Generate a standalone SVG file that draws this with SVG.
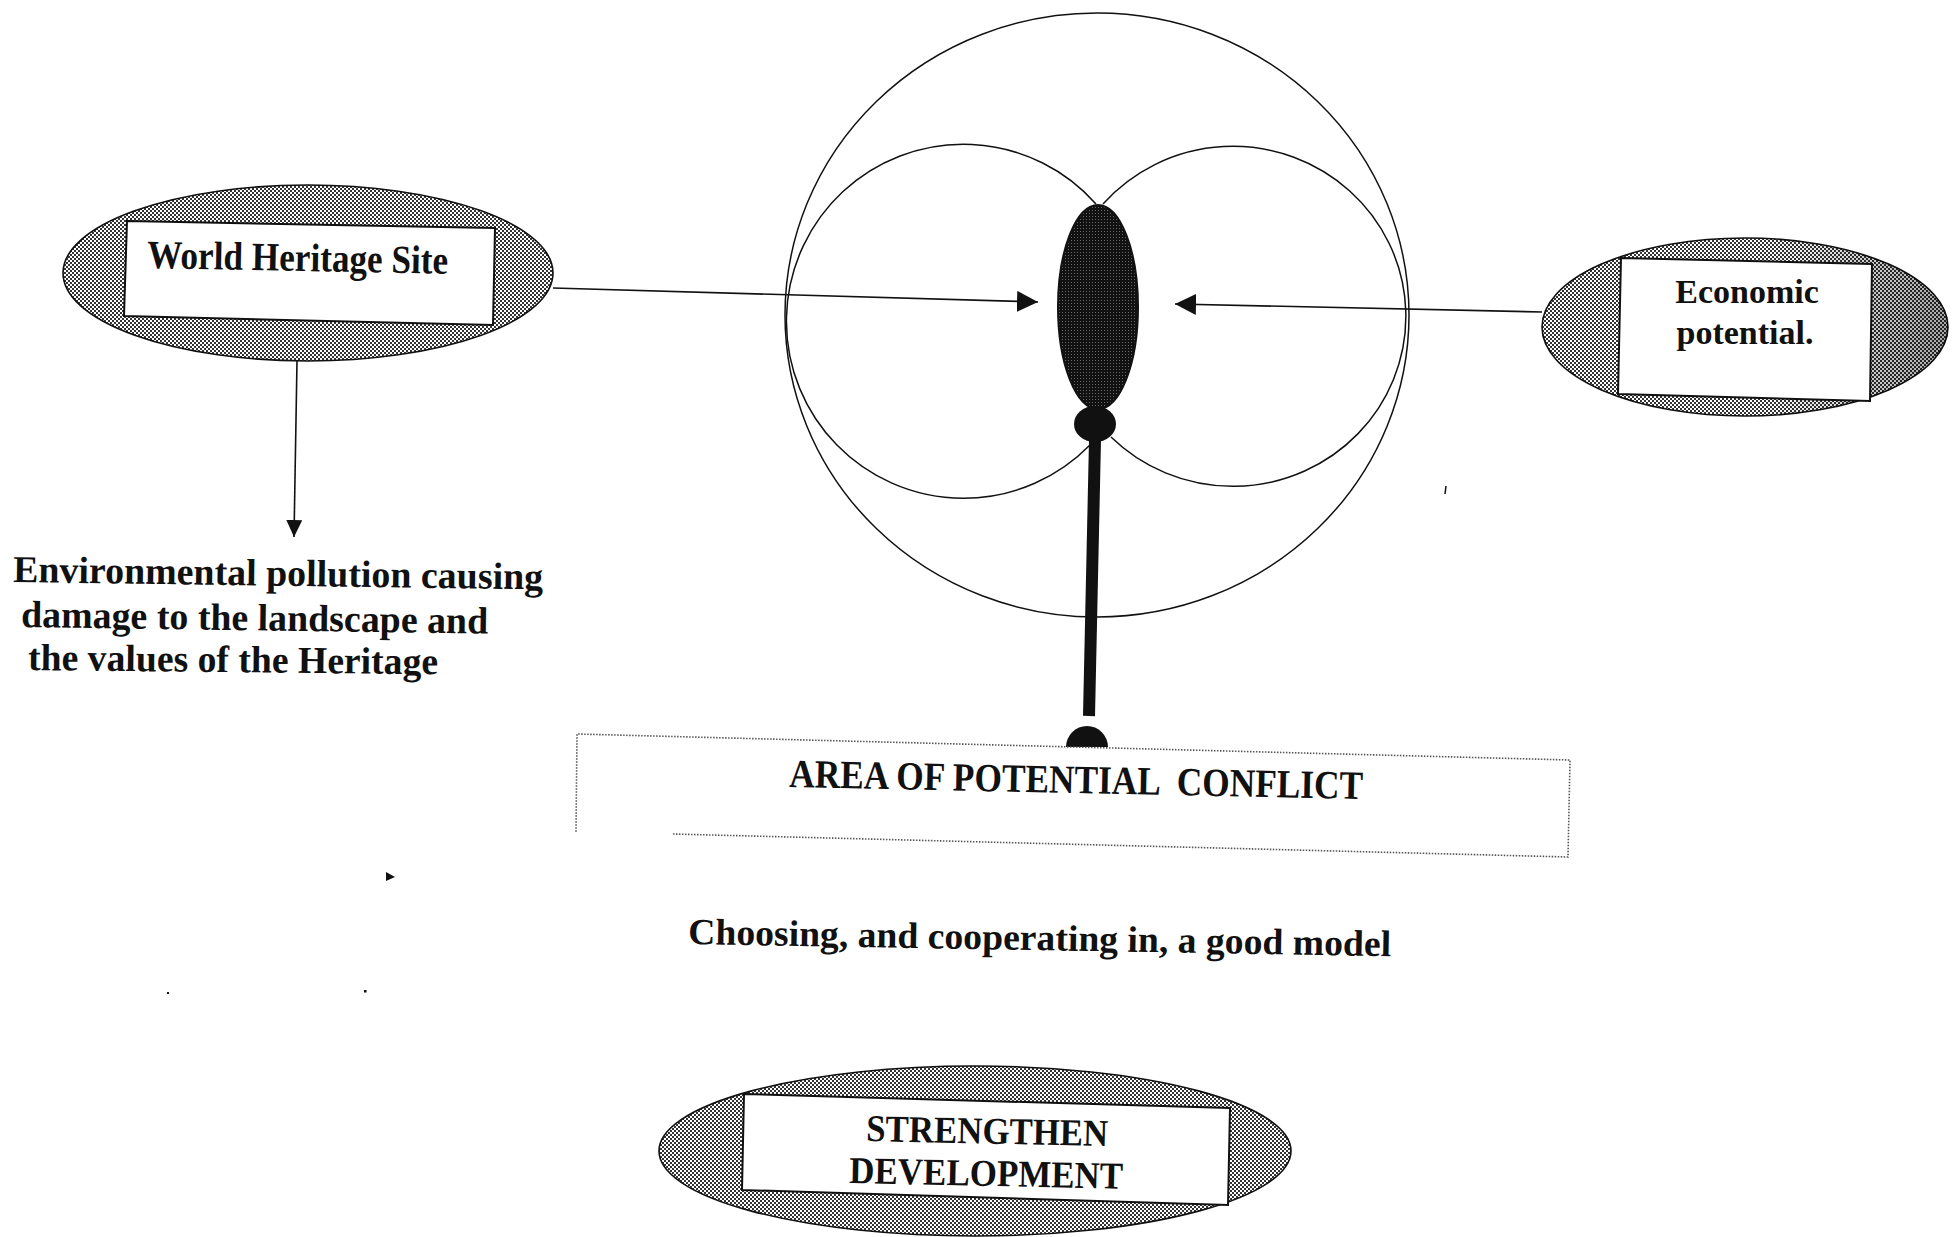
<svg xmlns="http://www.w3.org/2000/svg" width="1954" height="1237" viewBox="0 0 1954 1237">
  <defs>
    <style>
      .txt { font-family: "Liberation Serif", "Times New Roman", serif; font-weight: bold; fill: #111; }
      .halo { fill: url(#dither); stroke: #111; stroke-width: 1.6; }
      .card { fill: #fff; stroke: #111; stroke-width: 2; }
      .thin { fill: none; stroke: #111; stroke-width: 1.5; }
      .link { fill: none; stroke: #111; stroke-width: 1.6; }
    </style>
    <!-- fine halftone used for the grey rings -->
    <pattern id="dither" width="4" height="4" patternUnits="userSpaceOnUse">
      <rect width="4" height="4" fill="#fff"/>
      <rect width="2" height="2" fill="#333"/>
      <rect x="2" y="2" width="2" height="2" fill="#333"/>
    </pattern>
    <!-- near-black speckled fill of the core -->
    <pattern id="speckle" width="3" height="3" patternUnits="userSpaceOnUse">
      <rect width="3" height="3" fill="#111"/>
      <rect width="1" height="1" fill="#6a6a6a"/>
    </pattern>
    <linearGradient id="shadeRight" x1="0" y1="0" x2="1" y2="0">
      <stop offset="0.55" stop-color="#000" stop-opacity="0"/>
      <stop offset="1" stop-color="#000" stop-opacity="0.35"/>
    </linearGradient>
    <marker id="head" markerUnits="userSpaceOnUse" markerWidth="23" markerHeight="23" refX="21" refY="10.5" orient="auto">
      <path d="M0,0 L21,10.5 L0,21 Z" fill="#111"/>
    </marker>
    <marker id="headSmall" markerUnits="userSpaceOnUse" markerWidth="18" markerHeight="18" refX="17" refY="8" orient="auto">
      <path d="M0,0 L17,8 L0,16 Z" fill="#111"/>
    </marker>
  </defs>

  <rect width="1954" height="1237" fill="#fff"/>

  <!-- central figure: outer circle, two lobes, core and pin -->
  <g id="conflict-core">
    <ellipse class="thin" cx="1097" cy="315" rx="312" ry="302"/>
    <path class="thin" d="M1096,204 A177,177 0 1,0 1090,445"/>
    <path class="thin" d="M1103,204 A173,170 0 1,1 1111,437"/>
    <ellipse cx="1098" cy="307" rx="40" ry="102" fill="url(#speckle)" stroke="#111" stroke-width="2"/>
    <ellipse cx="1095" cy="424" rx="21" ry="18" fill="#111"/>
    <path d="M1095,440 L1089,716" stroke="#111" stroke-width="12" fill="none"/>
    <path d="M1066,747 A21,21 0 1,1 1108,747 Z" fill="#111"/>
  </g>

  <g id="world-heritage-site">
    <ellipse class="halo" cx="308" cy="273" rx="245" ry="88"/>
    <polygon class="card" points="127,221 495,228 493,325 124,316"/>
    <text class="txt" x="147" y="268" font-size="40" textLength="301" lengthAdjust="spacingAndGlyphs" transform="rotate(1.1 147 268)">World Heritage Site</text>
  </g>

  <g id="economic-potential">
    <ellipse class="halo" cx="1745" cy="327" rx="203" ry="89"/>
    <ellipse cx="1745" cy="327" rx="203" ry="89" fill="url(#shadeRight)"/>
    <polygon class="card" points="1621,258 1872,264 1870,401 1618,394"/>
    <text class="txt" x="1747" y="303" font-size="34" text-anchor="middle">Economic</text>
    <text class="txt" x="1745" y="344" font-size="34" text-anchor="middle">potential.</text>
  </g>

  <g id="environmental-impact">
    <text class="txt" x="13" y="582" font-size="38" textLength="530" lengthAdjust="spacingAndGlyphs" transform="rotate(0.8 13 582)">Environmental pollution causing</text>
    <text class="txt" x="21" y="627" font-size="38" textLength="467" lengthAdjust="spacingAndGlyphs" transform="rotate(0.8 21 627)">damage to the landscape and</text>
    <text class="txt" x="28" y="670" font-size="38" textLength="410" lengthAdjust="spacingAndGlyphs" transform="rotate(0.6 28 670)">the values of the Heritage</text>
  </g>

  <g id="area-of-conflict">
    <path d="M673,834 L1568,857 L1570,760 L577,734 L576,832" fill="none" stroke="#555" stroke-width="1.6" stroke-dasharray="1.5 1.5"/>
    <text class="txt" x="789" y="787" font-size="40" textLength="574" lengthAdjust="spacingAndGlyphs" style="white-space:pre" transform="rotate(1.2 789 787)">AREA OF POTENTIAL  CONFLICT</text>
  </g>

  <g id="good-model">
    <text class="txt" x="688" y="944" font-size="37" textLength="703" lengthAdjust="spacingAndGlyphs" transform="rotate(1.0 688 944)">Choosing, and cooperating in, a good model</text>
  </g>

  <g id="strengthen-development">
    <ellipse class="halo" cx="975" cy="1151" rx="316" ry="85"/>
    <polygon class="card" points="744,1094 1230,1108 1228,1205 742,1190"/>
    <text class="txt" x="866" y="1141" font-size="38" textLength="242" lengthAdjust="spacingAndGlyphs" transform="rotate(1.2 866 1141)">STRENGTHEN</text>
    <text class="txt" x="849" y="1183" font-size="38" textLength="274" lengthAdjust="spacingAndGlyphs" transform="rotate(1.2 849 1183)">DEVELOPMENT</text>
  </g>

  <g id="connectors">
    <line class="link" x1="553" y1="288" x2="1038" y2="302" marker-end="url(#head)"/>
    <line class="link" x1="1542" y1="312" x2="1175" y2="304" marker-end="url(#head)"/>
    <line class="link" x1="297" y1="361" x2="294" y2="537" marker-end="url(#headSmall)"/>
  </g>

  <!-- small stray marks -->
  <g id="marks" fill="#111">
    <path d="M386,872 L395,877 L386,881 Z"/>
    <rect x="167" y="992" width="2" height="2"/>
    <rect x="364" y="990" width="2.5" height="2.5"/>
    <path d="M1446,486 L1445,494" stroke="#111" stroke-width="1.5"/>
  </g>
</svg>
